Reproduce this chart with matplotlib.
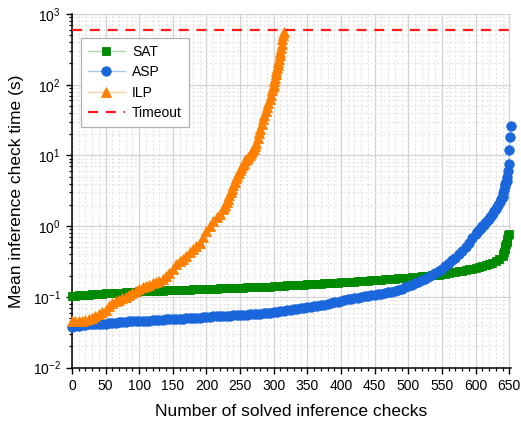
"""
Mean inference check time per solver (SAT / ASP / ILP), sorted ascending,
against the number of solved inference checks. Log-scaled time axis with the
600 s timeout drawn as a dashed line.
"""

import matplotlib

matplotlib.use("Agg")
import matplotlib.pyplot as plt
from matplotlib.ticker import LogLocator, MultipleLocator, NullFormatter

plt.rcParams["font.family"] = ["Liberation Sans", "DejaVu Sans"]

TIMEOUT_S = 600

# --- SAT: sorted mean times (s) ---
sat_n = list(range(0, 645, 5)) + [641, 642, 643, 644, 645, 646, 647, 648, 650]
sat_t = [
    0.103, 0.104, 0.105, 0.106, 0.107, 0.108, 0.109, 0.110, 0.110, 0.111,
    0.112, 0.113, 0.113, 0.114, 0.115, 0.115, 0.116, 0.117, 0.118, 0.119,
    0.120, 0.120, 0.121, 0.121, 0.122, 0.122, 0.123, 0.123, 0.124, 0.124,
    0.125, 0.125, 0.126, 0.126, 0.127, 0.127, 0.128, 0.128, 0.129, 0.129,
    0.130, 0.130, 0.131, 0.131, 0.132, 0.132, 0.133, 0.133, 0.134, 0.134,
    0.135, 0.135, 0.136, 0.136, 0.137, 0.137, 0.138, 0.139, 0.140, 0.140,
    0.141, 0.142, 0.143, 0.144, 0.145, 0.146, 0.147, 0.148, 0.148, 0.149,
    0.150, 0.151, 0.152, 0.153, 0.154, 0.155, 0.156, 0.157, 0.158, 0.159,
    0.160, 0.161, 0.162, 0.163, 0.164, 0.166, 0.167, 0.168, 0.169, 0.171,
    0.172, 0.174, 0.175, 0.177, 0.178, 0.180, 0.181, 0.183, 0.185, 0.186,
    0.188, 0.190, 0.192, 0.194, 0.196, 0.198, 0.200, 0.202, 0.205, 0.207,
    0.210, 0.214, 0.218, 0.222, 0.227, 0.232, 0.236, 0.240, 0.245, 0.250,
    0.255, 0.262, 0.270, 0.280, 0.290, 0.300, 0.320, 0.345, 0.380,
    0.40, 0.43, 0.47, 0.52, 0.56, 0.60, 0.65, 0.76, 0.78,
]

# --- ASP ---
asp_n = list(range(0, 601, 5)) + list(range(602, 641, 2)) + list(range(641, 653))
asp_t = [
    0.038, 0.039, 0.039, 0.040, 0.040, 0.041, 0.041, 0.041, 0.042, 0.042,
    0.042, 0.043, 0.043, 0.043, 0.044, 0.044, 0.044, 0.045, 0.045, 0.045,
    0.045, 0.046, 0.046, 0.046, 0.047, 0.047, 0.047, 0.047, 0.048, 0.048,
    0.048, 0.049, 0.049, 0.049, 0.050, 0.050, 0.051, 0.051, 0.051, 0.052,
    0.052, 0.052, 0.053, 0.053, 0.053, 0.054, 0.054, 0.054, 0.055, 0.055,
    0.055, 0.056, 0.056, 0.057, 0.057, 0.058, 0.058, 0.059, 0.060, 0.060,
    0.061, 0.062, 0.063, 0.064, 0.065, 0.066, 0.067, 0.068, 0.069, 0.070,
    0.071, 0.073, 0.074, 0.075, 0.077, 0.078, 0.080, 0.082, 0.084, 0.086,
    0.088, 0.090, 0.092, 0.094, 0.096, 0.098, 0.100, 0.102, 0.104, 0.106,
    0.107, 0.109, 0.111, 0.113, 0.116, 0.119, 0.122, 0.127, 0.131, 0.136,
    0.141, 0.149, 0.156, 0.164, 0.172, 0.182, 0.193, 0.205, 0.218, 0.232,
    0.247, 0.27, 0.30, 0.33, 0.36, 0.40, 0.45, 0.51, 0.58, 0.68,
    0.78,
    0.82, 0.86, 0.90, 0.95, 1.00, 1.05, 1.10, 1.16, 1.22, 1.28,
    1.36, 1.44, 1.54, 1.65, 1.75, 1.87, 2.0, 2.2, 2.4, 2.6,
    2.9, 3.3, 3.7, 4.0, 4.2, 4.4, 5.0, 6.0, 7.5, 12.0, 18.0, 26.0,
]

# --- ILP ---
ilp_n = list(range(0, 226, 5)) + list(range(226, 299, 2)) + list(range(299, 316))
ilp_t = [
    0.045, 0.045, 0.046, 0.046, 0.047, 0.048, 0.050, 0.053, 0.057, 0.061,
    0.066, 0.075, 0.083, 0.087, 0.091, 0.095, 0.100, 0.106, 0.113, 0.120,
    0.128, 0.136, 0.143, 0.149, 0.155, 0.162, 0.170, 0.182, 0.198, 0.220,
    0.245, 0.290, 0.320, 0.345, 0.380, 0.43, 0.48, 0.52, 0.58, 0.70,
    0.85, 1.02, 1.2, 1.35, 1.5, 1.75,
    1.85, 2.0, 2.2, 2.45, 2.75, 3.05, 3.4, 3.8, 4.25, 4.75,
    5.2, 5.7, 6.2, 6.7, 7.3, 7.9, 8.5, 9.0, 9.6, 10.2,
    10.8, 11.6, 12.5, 13.8, 15.2, 17.5, 20.5, 24, 28, 32.5,
    37, 42, 48, 55, 62, 72, 85,
    92, 100, 112, 125, 140, 155, 170, 190, 210, 235,
    260, 290, 330, 380, 440, 500, 550,
]

series = [
    ("SAT", sat_n, sat_t, "s", 6.0, "#008a00", "#a8dca8"),
    ("ASP", asp_n, asp_t, "o", 6.8, "#1a66db", "#a9c6f2"),
    ("ILP", ilp_n, ilp_t, "^", 7.8, "#ff8000", "#ffd3a6"),
]

fig = plt.figure(figsize=(5.21, 4.25), dpi=100)
ax = fig.add_axes([0.138, 0.135, 0.842, 0.832])

for name, n, t, mk, ms, col, light in series:
    ax.plot(n, t, "-", lw=1.0, color=light, marker=mk, ms=ms,
            mfc=col, mec=col, mew=0.6, label=name, zorder=3, clip_on=False)

ax.axhline(TIMEOUT_S, color="#ff1a1a", lw=1.6, dashes=(4.5, 3.5),
           label="Timeout", zorder=4)

ax.set_yscale("log")
ax.set_ylim(1e-2, 1e3)
ax.set_xlim(0, 652)

ax.xaxis.set_major_locator(MultipleLocator(50))
ax.xaxis.set_minor_locator(MultipleLocator(10))
ax.yaxis.set_major_locator(LogLocator(base=10, numticks=10))
ax.yaxis.set_minor_locator(LogLocator(base=10, subs=range(2, 10), numticks=20))
ax.yaxis.set_minor_formatter(NullFormatter())

ax.grid(True, which="major", color="#d2d2d2", lw=0.9, ls="-", zorder=0)
ax.grid(True, which="minor", color="#e4e4e4", lw=0.8, ls=(0, (2, 2)), zorder=0)
ax.set_axisbelow(True)

for side in ("top", "right"):
    ax.spines[side].set_visible(False)
for side in ("left", "bottom"):
    ax.spines[side].set_linewidth(1.1)

ax.tick_params(which="major", direction="out", length=4.5, width=1.0, labelsize=10)
ax.tick_params(which="minor", direction="out", length=2.5, width=0.9)

ax.set_xlabel("Number of solved inference checks", fontsize=12.5, labelpad=8)
ax.set_ylabel("Mean inference check time (s)", fontsize=12.5, labelpad=6)

leg = ax.legend(loc="upper left", bbox_to_anchor=(0.02, 0.932), borderaxespad=0,
                fontsize=10, fancybox=False, framealpha=1, edgecolor="#b0b0b0",
                handlelength=2.7, handletextpad=0.5, labelspacing=0.45,
                borderpad=0.5)
leg.get_frame().set_linewidth(0.9)

fig.savefig("out.png", dpi=100)
plt.close(fig)
